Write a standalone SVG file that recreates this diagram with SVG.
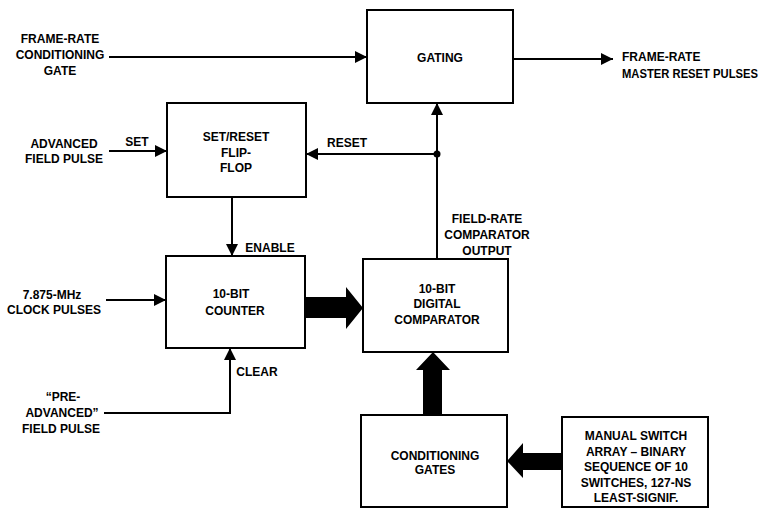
<svg xmlns="http://www.w3.org/2000/svg" width="766" height="509" viewBox="0 0 766 509">
<style>
text{font-family:"Liberation Sans",Arial,sans-serif;font-weight:bold;font-size:12px;fill:#000}
.c{text-anchor:middle}
.box{fill:#fff;stroke:#000;stroke-width:2}
.ln{fill:none;stroke:#000;stroke-width:2}
.thick{fill:#000;stroke:none}
</style>
<defs>
<marker id="ah" viewBox="0 0 12 12" markerWidth="12" markerHeight="13" markerUnits="userSpaceOnUse" refX="12" refY="6" orient="auto">
<path d="M0,0 L12,6 L0,12 z" fill="#000"/>
</marker>
</defs>
<rect width="766" height="509" fill="#fff"/>

<g id="connectors">
<line class="ln" x1="109" y1="57" x2="367" y2="57" marker-end="url(#ah)"/>
<line class="ln" x1="513" y1="59" x2="613" y2="59" marker-end="url(#ah)"/>
<line class="ln" x1="109" y1="151" x2="167" y2="151" marker-end="url(#ah)"/>
<line class="ln" x1="437" y1="154" x2="306" y2="154" marker-end="url(#ah)"/>
<line class="ln" x1="437" y1="259" x2="437" y2="103" marker-end="url(#ah)"/>
<circle cx="437" cy="154" r="3.5" fill="#000"/>
<line class="ln" x1="232" y1="197" x2="232" y2="256" marker-end="url(#ah)"/>
<line class="ln" x1="106" y1="300" x2="166" y2="300" marker-end="url(#ah)"/>
<polyline class="ln" points="104,413 230,413 230,348" marker-end="url(#ah)"/>
<path class="thick" d="M305,297 L346,297 L346,287 L363,308 L346,329 L346,318 L305,318 z"/>
<path class="thick" d="M423,415 L423,370 L416,370 L433,352 L450,370 L442,370 L442,415 z"/>
<path class="thick" d="M562,453 L523,453 L523,443 L507,461 L523,478 L523,470 L562,470 z"/>
</g>

<g id="gating">
<rect class="box" x="367" y="10" width="146" height="93"/>
<text class="c" x="440" y="62">GATING</text>
</g>

<g id="flipflop">
<rect class="box" x="167" y="103" width="139" height="94"/>
<text class="c" x="236" y="141">SET/RESET</text>
<text class="c" x="236" y="157">FLIP-</text>
<text class="c" x="236" y="172">FLOP</text>
</g>

<g id="counter">
<rect class="box" x="166" y="256" width="139" height="92"/>
<text class="c" x="231" y="298">10-BIT</text>
<text class="c" x="235" y="315">COUNTER</text>
</g>

<g id="comparator">
<rect class="box" x="363" y="259" width="145" height="93"/>
<text class="c" x="437" y="293">10-BIT</text>
<text class="c" x="437" y="308">DIGITAL</text>
<text class="c" x="437" y="324">COMPARATOR</text>
</g>

<g id="conditioning">
<rect class="box" x="361" y="415" width="146" height="92"/>
<text class="c" x="435" y="460">CONDITIONING</text>
<text class="c" x="435" y="474">GATES</text>
</g>

<g id="switcharray">
<rect class="box" x="562" y="417" width="146" height="90"/>
<text class="c" x="636" y="440">MANUAL SWITCH</text>
<text class="c" x="636" y="456">ARRAY – BINARY</text>
<text class="c" x="636" y="471">SEQUENCE OF 10</text>
<text class="c" x="636" y="487">SWITCHES, 127-NS</text>
<text class="c" x="636" y="502">LEAST-SIGNIF.</text>
</g>

<g id="in-conditioning-gate">
<text class="c" x="60" y="43">FRAME-RATE</text>
<text class="c" x="60" y="59">CONDITIONING</text>
<text class="c" x="60" y="75">GATE</text>
</g>

<g id="out-master-reset">
<text x="622" y="61">FRAME-RATE</text>
<text x="622" y="78" textLength="136" lengthAdjust="spacingAndGlyphs">MASTER RESET PULSES</text>
</g>

<g id="in-advanced">
<text class="c" x="64" y="148">ADVANCED</text>
<text class="c" x="64" y="163">FIELD PULSE</text>
</g>

<g id="in-clock">
<text class="c" x="52" y="299">7.875-MHz</text>
<text class="c" x="54" y="314">CLOCK PULSES</text>
</g>

<g id="in-preadvanced">
<text class="c" x="63" y="401">“PRE-</text>
<text class="c" x="62" y="417">ADVANCED”</text>
<text class="c" x="61" y="433">FIELD PULSE</text>
</g>

<g id="labels">
<text class="c" x="137" y="146">SET</text>
<text class="c" x="347" y="147">RESET</text>
<text class="c" x="270" y="252">ENABLE</text>
<text class="c" x="257" y="376">CLEAR</text>
<text class="c" x="487" y="223">FIELD-RATE</text>
<text class="c" x="487" y="239">COMPARATOR</text>
<text class="c" x="487" y="255">OUTPUT</text>
</g>
</svg>
